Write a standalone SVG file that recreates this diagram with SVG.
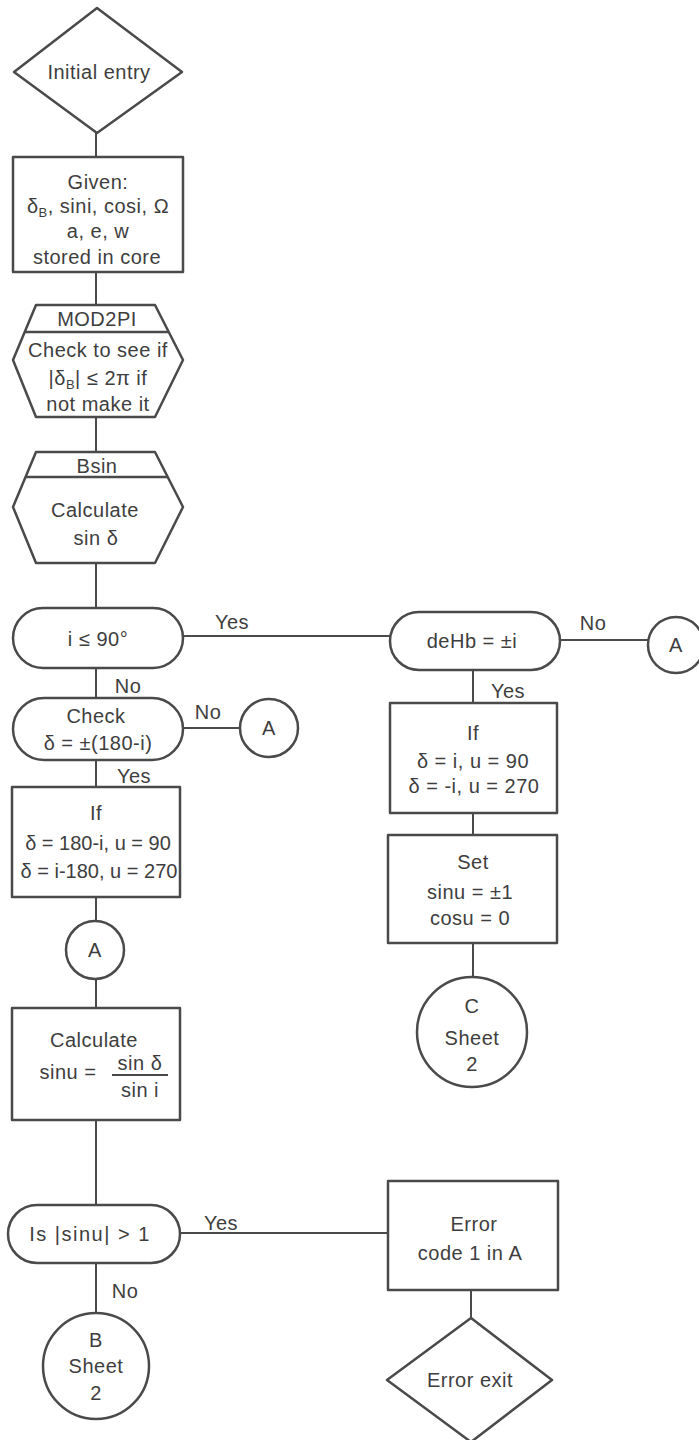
<svg xmlns="http://www.w3.org/2000/svg" width="699" height="1440" viewBox="0 0 699 1440">
<style>
.s{fill:#fff;stroke:#4a4a4a;stroke-width:2.5;stroke-linejoin:round}
.c line{stroke:#4a4a4a;stroke-width:2;fill:none}
text{font-family:"Liberation Sans","DejaVu Sans",sans-serif;font-size:20px;fill:#3e3e3e;text-anchor:middle;letter-spacing:0.5px}
.sub{font-size:13px}
.lbl{font-size:20px}
.sm{font-size:20px;letter-spacing:0}
</style>
<rect width="699" height="1440" fill="#fff"/>
<g class="c" id="connectors">
<line x1="96" y1="133" x2="96" y2="157"/>
<line x1="96" y1="272" x2="96" y2="305"/>
<line x1="96" y1="417" x2="96" y2="452"/>
<line x1="96" y1="563" x2="96" y2="608"/>
<line x1="183" y1="636" x2="390" y2="636"/>
<line x1="96" y1="668" x2="96" y2="698"/>
<line x1="183" y1="728" x2="240" y2="728"/>
<line x1="96" y1="760" x2="96" y2="787"/>
<line x1="96" y1="897" x2="96" y2="922"/>
<line x1="96" y1="978" x2="96" y2="1008"/>
<line x1="96" y1="1120" x2="96" y2="1205"/>
<line x1="180" y1="1233" x2="388" y2="1233"/>
<line x1="96" y1="1263" x2="96" y2="1313"/>
<line x1="560" y1="640" x2="648" y2="640"/>
<line x1="473" y1="670" x2="473" y2="703"/>
<line x1="473" y1="813" x2="473" y2="835"/>
<line x1="473" y1="943" x2="473" y2="977"/>
<line x1="471" y1="1290" x2="471" y2="1318"/>
<text class="lbl" x="232" y="629">Yes</text>
<text class="lbl" x="128" y="693">No</text>
<text class="lbl" x="208" y="719">No</text>
<text class="lbl" x="134" y="783">Yes</text>
<text class="lbl" x="593" y="630">No</text>
<text class="lbl" x="508" y="698">Yes</text>
<text class="lbl" x="221" y="1230">Yes</text>
<text class="lbl" x="125" y="1298">No</text>
</g>
<g id="initial-entry">
<polygon class="s" points="97,8 182,72 97,133 14,72"/>
<text x="99" y="79">Initial entry</text>
</g>
<g id="given">
<rect class="s" x="13" y="157" width="170" height="115"/>
<text x="98" y="189">Given:</text>
<text x="98" y="213">δ<tspan class="sub" dy="4">B</tspan><tspan dy="-4">, sini, cosi, Ω</tspan></text>
<text x="98" y="238">a, e, w</text>
<text x="97" y="264">stored in core</text>
</g>
<g id="mod2pi">
<polygon class="s" points="36,305 155,305 183,360 155,417 36,417 13,360"/>
<line x1="24.7" y1="332" x2="168.7" y2="332" stroke="#4a4a4a" stroke-width="2.5"/>
<text x="97" y="326">MOD2PI</text>
<text x="98" y="357">Check to see if</text>
<text x="98" y="385">|δ<tspan class="sub" dy="4">B</tspan><tspan dy="-4">| ≤ 2π   if</tspan></text>
<text x="98" y="411">not make it</text>
</g>
<g id="bsin">
<polygon class="s" points="36,452 155,452 183,507 155,563 36,563 13,507"/>
<line x1="25.5" y1="477" x2="167.7" y2="477" stroke="#4a4a4a" stroke-width="2.5"/>
<text x="97" y="473">Bsin</text>
<text x="95" y="517">Calculate</text>
<text x="96" y="545">sin δ</text>
</g>
<g id="i-le-90">
<rect class="s" x="13" y="608" width="170" height="60" rx="30"/>
<text x="98" y="646">i ≤ 90°</text>
</g>
<g id="check">
<rect class="s" x="13" y="698" width="170" height="62" rx="31"/>
<text x="96" y="723">Check</text>
<text x="98" y="750">δ = ±(180-i)</text>
</g>
<g id="conn-a1">
<circle class="s" cx="269" cy="728" r="29"/>
<text x="269" y="735">A</text>
</g>
<g id="if-left">
<rect class="s" x="12" y="787" width="168" height="110"/>
<text x="96" y="820">If</text>
<text class="sm" x="98" y="850">δ = 180-i, u = 90</text>
<text class="sm" x="99" y="878">δ = i-180, u = 270</text>
</g>
<g id="conn-a2">
<circle class="s" cx="95" cy="950" r="29"/>
<text x="95" y="957">A</text>
</g>
<g id="calculate">
<rect class="s" x="12" y="1008" width="168" height="112"/>
<text x="94" y="1047">Calculate</text>
<text x="68" y="1079">sinu =</text>
<text x="140" y="1070">sin δ</text>
<line x1="112" y1="1075" x2="168" y2="1075" stroke="#4a4a4a" stroke-width="2"/>
<text x="140" y="1097">sin i</text>
</g>
<g id="is-sinu">
<rect class="s" x="8" y="1205" width="172" height="58" rx="29"/>
<text x="90" y="1241" style="letter-spacing:1.5px">Is |sinu| &gt; 1</text>
</g>
<g id="conn-b">
<circle class="s" cx="96" cy="1366" r="53"/>
<text x="96" y="1347">B</text>
<text x="96" y="1373">Sheet</text>
<text x="96" y="1400">2</text>
</g>
<g id="deltb">
<rect class="s" x="390" y="612" width="170" height="58" rx="29"/>
<text x="472" y="648">deHb = ±i</text>
</g>
<g id="conn-a3">
<circle class="s" cx="676" cy="645" r="28"/>
<text x="676" y="652">A</text>
</g>
<g id="if-right">
<rect class="s" x="390" y="703" width="167" height="110"/>
<text x="473" y="740">If</text>
<text x="473" y="768">δ = i, u = 90</text>
<text x="474" y="793">δ = -i, u = 270</text>
</g>
<g id="set">
<rect class="s" x="388" y="835" width="169" height="108"/>
<text x="473" y="869">Set</text>
<text x="470" y="899">sinu = ±1</text>
<text x="470" y="925">cosu =  0</text>
</g>
<g id="conn-c">
<circle class="s" cx="472" cy="1032" r="55"/>
<text x="472" y="1013">C</text>
<text x="472" y="1045">Sheet</text>
<text x="472" y="1071">2</text>
</g>
<g id="error">
<rect class="s" x="388" y="1181" width="170" height="109"/>
<text x="474" y="1231">Error</text>
<text x="470" y="1260">code 1 in A</text>
</g>
<g id="error-exit">
<polygon class="s" points="471,1318 552,1380 471,1442 387,1380"/>
<text x="470" y="1387">Error exit</text>
</g>
</svg>
